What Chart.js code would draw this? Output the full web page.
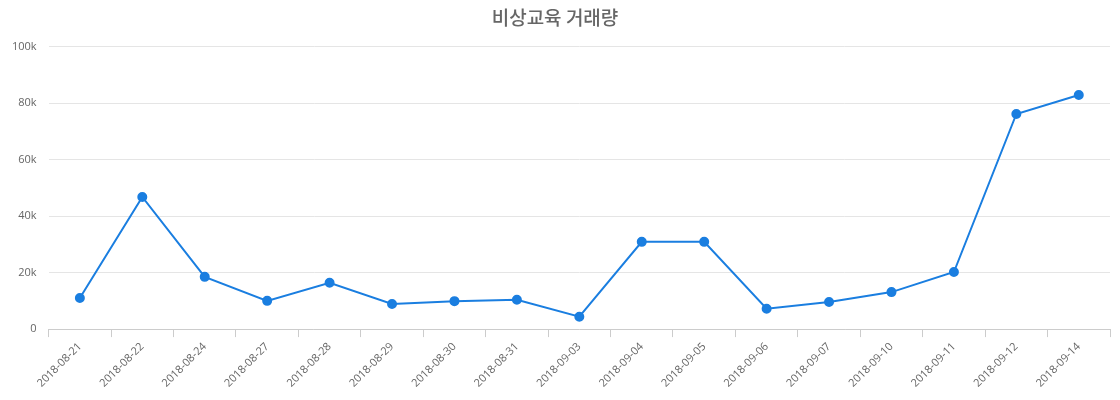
<!DOCTYPE html>
<html>
<head>
<meta charset="utf-8">
<script src="https://cdn.jsdelivr.net/npm/chart.js@4/dist/chart.umd.min.js"></script>
<style>
  html, body { margin: 0; padding: 0; background: #fff; }
  #wrap { width: 1120px; height: 400px; }
</style>
</head>
<body>
<div id="wrap"><canvas id="volChart"></canvas></div>
<script>
var dates = [
    "2018-08-21", "2018-08-22", "2018-08-24", "2018-08-27", "2018-08-28",
    "2018-08-29", "2018-08-30", "2018-08-31", "2018-09-03", "2018-09-04",
    "2018-09-05", "2018-09-06", "2018-09-07", "2018-09-10", "2018-09-11",
    "2018-09-12", "2018-09-14"
];
var volumes = [
    11000, 46800, 18500, 10000, 16400,
    8900, 9900, 10400, 4400, 30900,
    30900, 7200, 9600, 13100, 20200,
    76200, 82900
];
var yTicks = [0, 20000, 40000, 60000, 80000, 100000];

var blue = "#1a7ee0";
Chart.defaults.font.family = "'Open Sans', 'Noto Sans CJK KR', sans-serif";
Chart.defaults.color = "#666";

var ctx = document.getElementById("volChart").getContext("2d");
var volChart = new Chart(ctx, {
    type: "line",
    data: {
        labels: dates,
        datasets: [
            {
                label: "거래량",
                data: volumes,
                borderColor: blue,
                backgroundColor: blue,
                pointBackgroundColor: blue,
                pointBorderColor: blue,
                pointRadius: 4,
                borderWidth: 2,
                fill: false,
                tension: 0
            }
        ]
    },
    options: {
        responsive: true,
        maintainAspectRatio: false,
        animation: false,
        layout: { padding: { left: 0, right: 10, top: 0, bottom: 7 } },
        plugins: {
            legend: { display: false },
            tooltip: { enabled: false },
            title: {
                display: true,
                text: "비상교육 거래량",
                color: "#666",
                font: { size: 19, weight: 500, family: "'Noto Sans CJK KR', sans-serif" },
                padding: { top: 6, bottom: 18 }
            }
        },
        scales: {
            x: {
                offset: true,
                grid: {
                    offset: true,
                    drawOnChartArea: false,
                    tickLength: 8,
                    color: "#ccc"
                },
                border: { color: "#ccc" },
                ticks: {
                    autoSkip: false,
                    maxRotation: 45,
                    minRotation: 45,
                    font: { size: 11 },
                    color: "#666"
                }
            },
            y: {
                min: 0,
                max: 100000,
                afterBuildTicks: function(axis) {
                    axis.ticks = yTicks.map(function(v) { return { value: v }; });
                },
                grid: { color: "#e5e5e5", drawTicks: false },
                border: { display: false },
                ticks: {
                    padding: 12,
                    font: { size: 11 },
                    color: "#666",
                    callback: function(v) { return v === 0 ? "0" : (v / 1000) + "k"; }
                }
            }
        }
    }
});
</script>
</body>
</html>
